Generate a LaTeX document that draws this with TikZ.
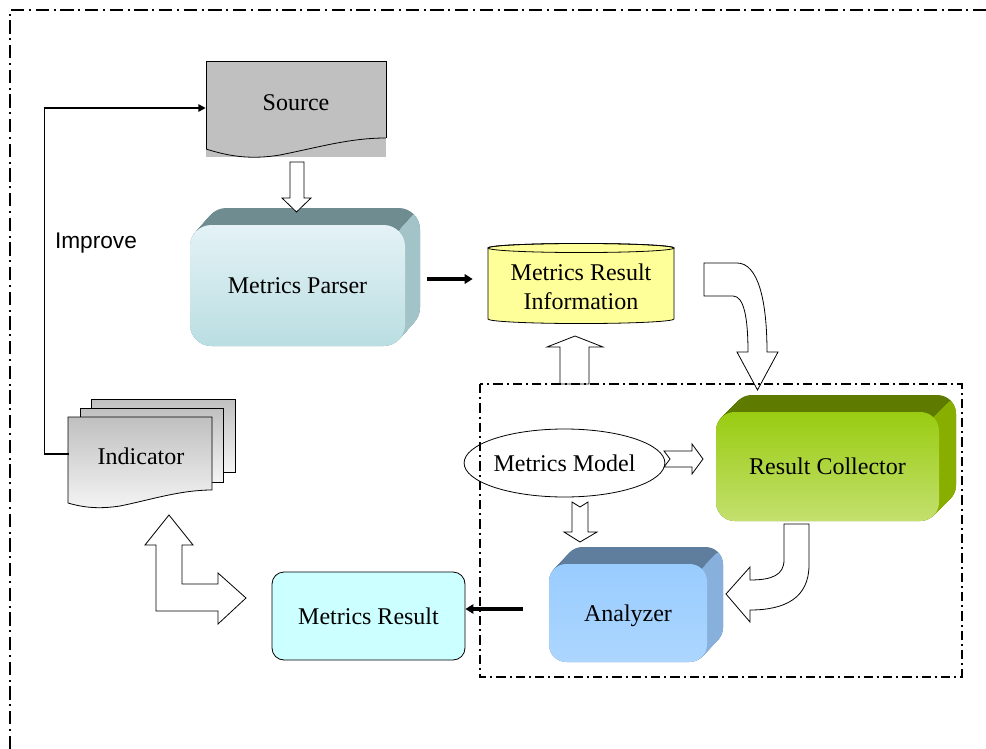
\documentclass[tikz,border=0pt]{standalone}
\usepackage{fontspec}
\setmainfont{Liberation Serif}
\newfontfamily\labelsans{Liberation Sans}
\usetikzlibrary{calc,arrows.meta,shapes.geometric}

\definecolor{parserTop}{HTML}{6F8D91}
\definecolor{parserSide}{HTML}{A2C3C7}
\definecolor{parserHi}{HTML}{E4F2F6}
\definecolor{parserLo}{HTML}{BADEE2}
\definecolor{collTop}{HTML}{5E7B00}
\definecolor{collSide}{HTML}{88AE00}
\definecolor{collHi}{HTML}{99CC11}
\definecolor{collLo}{HTML}{C3E06E}
\definecolor{anaTop}{HTML}{5F7D9D}
\definecolor{anaSide}{HTML}{88B0DC}
\definecolor{anaHi}{HTML}{99CCFF}
\definecolor{anaLo}{HTML}{ACD6FF}
\definecolor{docGray}{HTML}{C0C0C0}
\definecolor{docLight}{HTML}{F4F4F4}
\definecolor{dbYellow}{HTML}{FFFF99}
\definecolor{resultCyan}{HTML}{CCFFFF}

% Extruded rounded box: front face (x1,y1)-(x2,y2), depth (dx,dy), corner radius, colour prefix
\newcommand{\solidbox}[8]{%
  \foreach \k in {0,...,24}{
    \fill[#8Top, rounded corners=#7] ({#1+#5*\k/24},{#2-#6*\k/24}) rectangle ({#3+#5*\k/24},{#4-#6*\k/24});
  }
  \begin{scope}
    \clip ({#3-6},{#2+6}) -- ({#3-6+#5},{#2+6-#6}) -- ({#3+#5+40},{#2+6-#6}) -- ({#3+#5+40},{#4+40}) -- ({#3-6},{#4+40}) -- cycle;
    \foreach \k in {0,...,24}{
      \fill[#8Side, rounded corners=#7] ({#1+#5*\k/24},{#2-#6*\k/24}) rectangle ({#3+#5*\k/24},{#4-#6*\k/24});
    }
  \end{scope}
  \shade[top color=#8Hi, bottom color=#8Lo, rounded corners=#7] (#1,#2) rectangle (#3,#4);
}

\tikzset{
  px/.style={x=0.75pt, y=-0.75pt},
  lbl/.style={font=\fontsize{18}{21.75}\selectfont, inner sep=0pt, align=center},
  oneline/.style={lbl, text depth=0pt},
  blockarrow/.style={draw=black, fill=white, line width=0.6pt, line join=miter},
  docline/.style={draw=black, line width=0.6pt},
  fatarrow/.style={line width=2.5pt, -{Triangle[length=6pt,width=7pt]}},
  fbline/.style={line width=1.1pt, -{Triangle[length=5.5pt,width=5.5pt]}},
  outerframe/.style={line width=1.2pt, dash pattern=on 10pt off 3.5pt on 1.5pt off 3.5pt},
  innerframe/.style={line width=1.1pt, dash pattern=on 7pt off 3pt on 1.5pt off 3pt},
}

\begin{document}
\begin{tikzpicture}[px]
\useasboundingbox (0,0) rectangle (986,749);

% outer frame (only top and left edges fall inside the page)
\draw[outerframe] (10,749) -- (10,10) -- (986,10);

% ---- Source document
\fill[docGray] (206,61) rectangle (386,157);
\draw[docline] (206,149) -- (206,61) -- (386,61) -- (386,138);
\draw[docline] (206,149) .. controls (228,156) and (250,160) .. (280,155) .. controls (320,147) and (350,138) .. (386,138);
\node[oneline, minimum width=135pt, minimum height=66pt] (source) at (296,103) {Source};

% ---- Metrics Parser
\solidbox{190}{225}{405}{346}{15}{17}{16pt}{parser}
\node[oneline, minimum width=161.25pt, minimum height=90.75pt] (parser) at (297.5,285.5) {Metrics Parser};

% ---- Metrics Result Information (database)
\filldraw[fill=dbYellow, draw=black, line width=0.6pt] (488,248) -- (488,319)
  arc[start angle=180, end angle=360, x radius=69.75pt, y radius=3.4pt] -- (674,248)
  arc[start angle=0, end angle=180, x radius=69.75pt, y radius=3.4pt] -- cycle;
\draw[line width=0.6pt] (581,248) ellipse[x radius=69.75pt, y radius=3.4pt];
\node[lbl, minimum width=139.5pt] (mri) at (581,287) {Metrics Result\\Information};

% ---- Indicator (stacked documents)
\shadedraw[top color=docGray, bottom color=docLight, draw=black, line width=0.6pt] (91,399) rectangle (235,472);
\shadedraw[top color=docGray, bottom color=docLight, draw=black, line width=0.6pt] (80,408) rectangle (223,482);
\shadedraw[top color=docGray, bottom color=docLight, draw=black, line width=0.6pt]
  (68,503) -- (68,417) -- (212,417) -- (212,490)
  .. controls (180,490) and (150,500) .. (120,506) .. controls (100,509) and (85,508) .. cycle;
\node[oneline, minimum width=108pt, minimum height=64.5pt] (ind) at (141,456) {Indicator};
\node[font=\labelsans\fontsize{17}{20}\selectfont, inner sep=0pt, text depth=0pt] (improve) at (96,241) {Improve};

% ---- Result Collector
\solidbox{716}{412}{939}{521}{17}{17}{14pt}{coll}
\node[oneline, minimum width=167.25pt, minimum height=81.75pt] (coll) at (827.5,466.5) {Result Collector};

% ---- Analyzer
\solidbox{549}{564}{707}{662}{16}{17}{13pt}{ana}
\node[oneline, minimum width=118.5pt, minimum height=73.5pt] (ana) at (628,613) {Analyzer};

% ---- Metrics Model
\node[oneline, draw, line width=0.6pt, ellipse, minimum width=138.75pt, minimum height=51pt] (model) at (564.5,463) {Metrics Model};

% ---- Metrics Result
\node[oneline, draw, line width=0.6pt, fill=resultCyan, rounded corners=9pt, minimum width=144.75pt, minimum height=66pt] (mres) at (368.5,616) {Metrics Result};

% ---- hollow block arrows
\draw[blockarrow] (290,162) -- (304,162) -- (304,198) -- (311,198) -- (296.5,212) -- (282,198) -- (290,198) -- cycle;
\draw[blockarrow] (560,384) -- (560,347) -- (547,347) -- (575,336) -- (603,347) -- (589,347) -- (589,384) -- cycle;
\draw[blockarrow] (704,263) -- (737,263) .. controls (758,263) and (767,300) .. (767,352) -- (778,352) -- (757.5,390)
  -- (737,352) -- (748,352) .. controls (748,318) and (744,296) .. (733,296) -- (704,296) -- cycle;
\draw[blockarrow] (664,451) -- (692,451) -- (692,444) -- (703,459) -- (692,474) -- (692,467) -- (664,467) -- (670,459) -- cycle;
\draw[blockarrow] (572,502) -- (580,507) -- (588,502) -- (588,532) -- (597,532) -- (580,542) -- (564,532) -- (572,532) -- cycle;
\draw[blockarrow] (784,524) -- (809,524) -- (809,565) .. controls (809,598) and (785,610) .. (750,610) -- (750,622) -- (726,594)
  -- (750,567) -- (750,580) .. controls (772,580) and (784,575) .. (784,560) -- cycle;
\draw[blockarrow] (169,515) -- (193,545) -- (182,545) -- (182,584) -- (218,584) -- (218,573) -- (246,598) -- (218,624)
  -- (218,611) -- (156,611) -- (156,545) -- (145,545) -- cycle;

% ---- connectors
\draw[fatarrow] ($(parser.east)+(22,-6.5)$) -- ($(mri.west)+(-15,-8)$);
\draw[fatarrow] ($(ana.west)+(-26,-4)$) -- ($(mres.east)+(0,-7)$);
\draw[fbline] ($(ind.west)+(0,-2)$) -- ++(-24,0) |- ($(source.west)+(0,5)$);

% analysis group frame
\draw[innerframe] (480,384) rectangle (962,677);
\end{tikzpicture}
\end{document}
